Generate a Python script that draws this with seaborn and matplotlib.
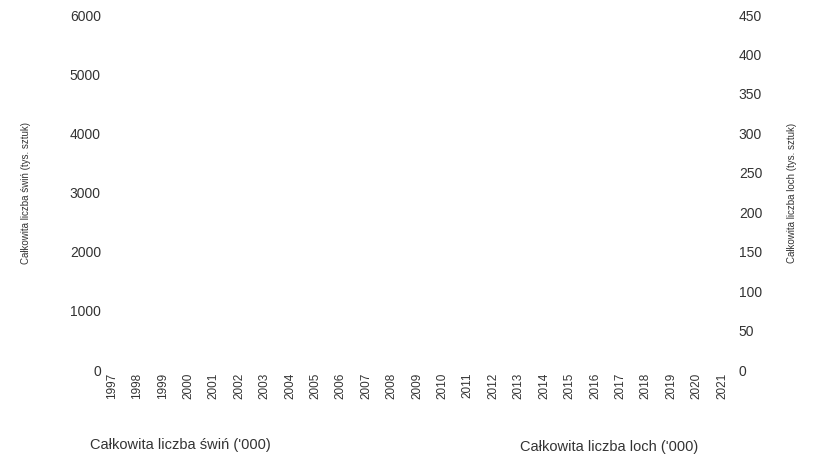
import matplotlib
matplotlib.use("Agg")
import matplotlib.pyplot as plt
import seaborn as sns
import numpy as np

years = [str(y) for y in range(1997, 2022)]
pigs = [np.nan] * len(years)   # no values visible in reference
sows = [np.nan] * len(years)
left_ticks = [0, 1000, 2000, 3000, 4000, 5000, 6000]
right_ticks = [0, 50, 100, 150, 200, 250, 300, 350, 400, 450]

sns.set_theme(style="white")
plt.rcParams['font.family'] = ['Liberation Sans', 'DejaVu Sans']

fig = plt.figure(figsize=(8.2, 4.62), dpi=100)
ax = fig.add_axes([0.1366, 0.199, 0.744, 0.7685])
x = np.arange(len(years))
ax.plot(x, pigs, color="#4472c4")
ax.set_xlim(0, len(years) - 1)
ax.set_ylim(0, 6000)
ax.set_yticks(left_ticks)
ax.set_xticks(x)
ax.set_xticklabels(years, rotation=90, fontsize=8.5, color="#333333")
ax.tick_params(axis='y', labelsize=10, colors="#333333", length=0, pad=8)
ax.tick_params(axis='x', length=0, pad=2)
ax.set_ylabel("Całkowita liczba świń (tys. sztuk)", fontsize=7, color="#333333", labelpad=28)
ax2 = ax.twinx()
ax2.plot(x, sows, color="#ed7d31")
ax2.set_ylim(0, 450)
ax2.set_yticks(right_ticks)
ax2.tick_params(axis='y', labelsize=10, colors="#333333", length=0, pad=12)
ax2.set_ylabel("Całkowita liczba loch (tys. sztuk)", fontsize=7, color="#333333", labelpad=18)
for a in (ax, ax2):
    for s in a.spines.values():
        s.set_visible(False)
fig.text(90/820, 1 - 445/462, "Całkowita liczba świń ('000)", fontsize=10.5, color="#333333", va="center")
fig.text(520/820, 1 - 447/462, "Całkowita liczba loch ('000)", fontsize=10.5, color="#333333", va="center")
fig.savefig("out.png", dpi=100)
